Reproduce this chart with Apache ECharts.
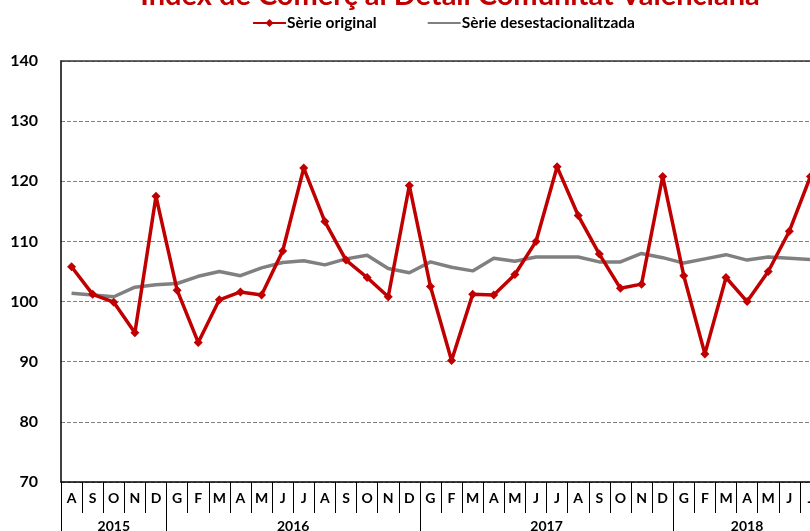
<!DOCTYPE html>
<html>
<head>
<meta charset="utf-8">
<script src="https://cdn.jsdelivr.net/npm/echarts@6/dist/echarts.min.js"></script>
<style>
	html, body { margin: 0; padding: 0; background: #fff; }
	#chart { width: 810px; height: 531px; }
</style>
</head>
<body>
<div id="chart"></div>
<script>
// mesos (ago 2015 - jul 2018)
var months = ['A','S','O','N','D',
	'G','F','M','A','M','J','J','A','S','O','N','D',
	'G','F','M','A','M','J','J','A','S','O','N','D',
	'G','F','M','A','M','J','J']
var years = ['2015', '2016', '2017', '2018']
var yearMonthCounts = [5, 12, 12, 7]

var serieOriginal = [105.8, 101.2, 99.9, 94.8, 117.5,
	101.9, 93.2, 100.3, 101.6, 101.1, 108.4, 122.2, 113.3, 106.9, 104.0, 100.8, 119.3,
	102.5, 90.2, 101.2, 101.1, 104.5, 110.0, 122.4, 114.3, 107.9, 102.2, 102.9, 120.8,
	104.3, 91.3, 104.0, 100.0, 105.0, 111.7, 120.8]
var serieDesest = [101.4, 101.1, 100.8, 102.4, 102.8,
	103.0, 104.2, 105.0, 104.3, 105.6, 106.5, 106.8, 106.1, 107.1, 107.7, 105.5, 104.8,
	106.6, 105.7, 105.1, 107.2, 106.7, 107.4, 107.4, 107.4, 106.6, 106.6, 108.0, 107.3,
	106.4, 107.1, 107.8, 106.9, 107.4, 107.2, 107.0]

// límits i centres dels anys en unitats de mes
var yearBounds = [0]
var yearCenters = []
yearMonthCounts.forEach(function (n, i) {
	var start = yearBounds[i]
	yearBounds.push(start + n)
	yearCenters.push(start + n / 2)
})

var font = 'Lato'
var red = '#C00000'
var grey = '#808080'

var myChart = echarts.init(document.getElementById('chart'))
myChart.setOption({
	animation: false,
	title: {
		text: 'Índex de Comerç al Detall Comunitat Valenciana',
		left: 445,
		textAlign: 'center',
		top: -24,
		textStyle: { color: red, fontFamily: font, fontWeight: 'bold', fontSize: 29 }
	},
	legend: {
		top: 10,
		left: 247,
		itemWidth: 33,
		itemHeight: 10,
		itemGap: 50,
		textStyle: { fontFamily: font, fontWeight: 'bold', fontSize: 15.5, color: '#000', padding: [0, 0, 0, -4] },
		data: [
			{ name: 'Sèrie original' },
			{ name: 'Sèrie desestacionalitzada', itemStyle: { opacity: 0 } }
		]
	},
	// el gràfic original queda retallat per la dreta
	grid: {
		left: 61,
		top: 61,
		bottom: 49,
		right: -11,
		outerBoundsMode: 'none',
		containLabel: false
	},
	xAxis: [{
		type: 'category',
		data: months,
		position: 'bottom',
		boundaryGap: true,
		axisLine: { show: true, lineStyle: { color: '#000', width: 1.5 } },
		axisTick: { show: true, interval: 0, length: 31, lineStyle: { color: '#000', width: 1 } },
		axisLabel: { interval: 0, margin: 9, color: '#000', fontFamily: font, fontWeight: 'bold', fontSize: 14 },
		splitLine: { show: false }
	}, {
		type: 'value',
		min: 0,
		max: months.length,
		position: 'bottom',
		axisLine: { show: false },
		axisTick: { show: true, customValues: yearBounds, length: 60, lineStyle: { color: '#000', width: 1 } },
		axisLabel: {
			customValues: yearCenters,
			margin: 37,
			color: '#000', fontFamily: font, fontWeight: 'bold', fontSize: 14,
			formatter: function (v) {
				var i = yearCenters.indexOf(v)
				return i >= 0 ? years[i] : ''
			}
		},
		splitLine: { show: false }
	}, {
		type: 'category',
		data: months,
		position: 'top',
		axisLine: { show: true, lineStyle: { color: '#333', width: 1.5 } },
		axisTick: { show: false },
		axisLabel: { show: false }
	}],
	yAxis: {
		type: 'value',
		min: 70,
		max: 140,
		interval: 10,
		axisLine: { show: true, lineStyle: { color: '#000', width: 1.5 } },
		axisTick: { show: false },
		axisLabel: { margin: 23, color: '#000', fontFamily: font, fontWeight: 'bold', fontSize: 16 },
		splitLine: { show: true, lineStyle: { color: grey, type: [4, 2], width: 1 } }
	},
	series: [{
		name: 'Sèrie desestacionalitzada',
		type: 'line',
		xAxisIndex: 0,
		data: serieDesest,
		symbol: 'none',
		lineStyle: { color: grey, width: 3.5 },
		itemStyle: { color: grey },
		z: 2
	}, {
		name: 'Sèrie original',
		type: 'line',
		xAxisIndex: 0,
		data: serieOriginal,
		symbol: 'diamond',
		symbolSize: 9,
		lineStyle: { color: red, width: 3.5 },
		itemStyle: { color: red },
		z: 3
	}]
})
</script>
</body>
</html>
